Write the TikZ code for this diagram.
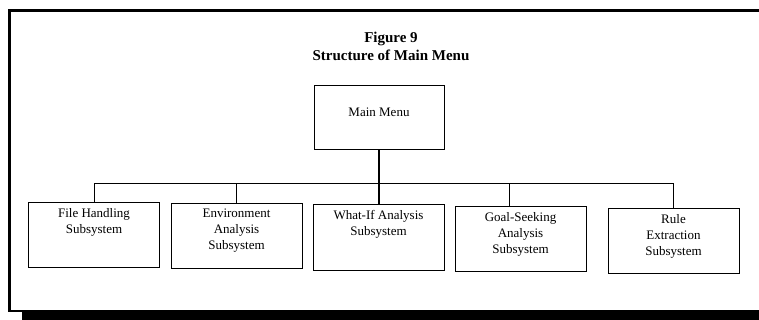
\documentclass[tikz,border=0pt]{standalone}
\usepackage{fontspec}
\setmainfont{Liberation Serif}
\begin{document}
\begin{tikzpicture}[x=1pt,y=-1pt,
  frame/.style={line width=3pt},
  subbox/.style={draw, line width=1pt, minimum width=131pt, minimum height=65pt, inner sep=0pt},
  boxtext/.style={anchor=north, align=center, inner sep=0pt, yshift=-6pt,
    font=\fontsize{13}{16}\selectfont},
  link/.style={line width=0.9pt}]
\useasboundingbox (0,0) rectangle (759,320);

% outer frame with a heavy shadow along the bottom
\draw[frame] (9.5,311) -- (9.5,10.5) -- (759,10.5);
\draw[line width=2pt] (8,310.5) -- (22,310.5);
\fill (22,309.5) rectangle (759,320);

% heading
\node[anchor=north, align=center, inner sep=0pt,
  font=\fontsize{15}{18}\selectfont\bfseries] (title) at (391,32)
  {Figure 9\\Structure of Main Menu};

% top-level menu
\node[subbox, minimum width=130pt, minimum height=64pt] (main) at (379,118) {};
\node[anchor=base, inner sep=0pt, font=\fontsize{13}{16}\selectfont] (maintext) at (379,117) {Main Menu};

% subsystems
\node[subbox] (file)   at (94,235)    {};
\node[subbox] (env)    at (236.5,236) {};
\node[subbox] (whatif) at (378.5,237.5) {};
\node[subbox] (goal)   at (520.5,239) {};
\node[subbox] (rule)   at (673.5,241) {};

\node[boxtext] (filetext)   at (file.north)   {File Handling\\Subsystem};
\node[boxtext] (envtext)    at (env.north)    {Environment\\Analysis\\Subsystem};
\node[boxtext] (whatiftext) at (whatif.north) {What-If Analysis\\Subsystem};
\node[boxtext] (goaltext)   at (goal.north)   {Goal-Seeking\\Analysis\\Subsystem};
\node[boxtext] (ruletext)   at (rule.north)   {Rule\\Extraction\\Subsystem};

% connectors
\coordinate (bus) at (0,183);
\coordinate (goaltop) at ([xshift=-11.5pt]goal.north);
\draw[link] (file.north) |- (bus -| rule.north) -- (rule.north);
\draw[link, line width=1.3pt] (main.south) -- (main.south |- whatif.north);
\draw[link] (env.north) -- (env.north |- bus);
\draw[link] (goaltop) -- (goaltop |- bus);
\end{tikzpicture}
\end{document}
